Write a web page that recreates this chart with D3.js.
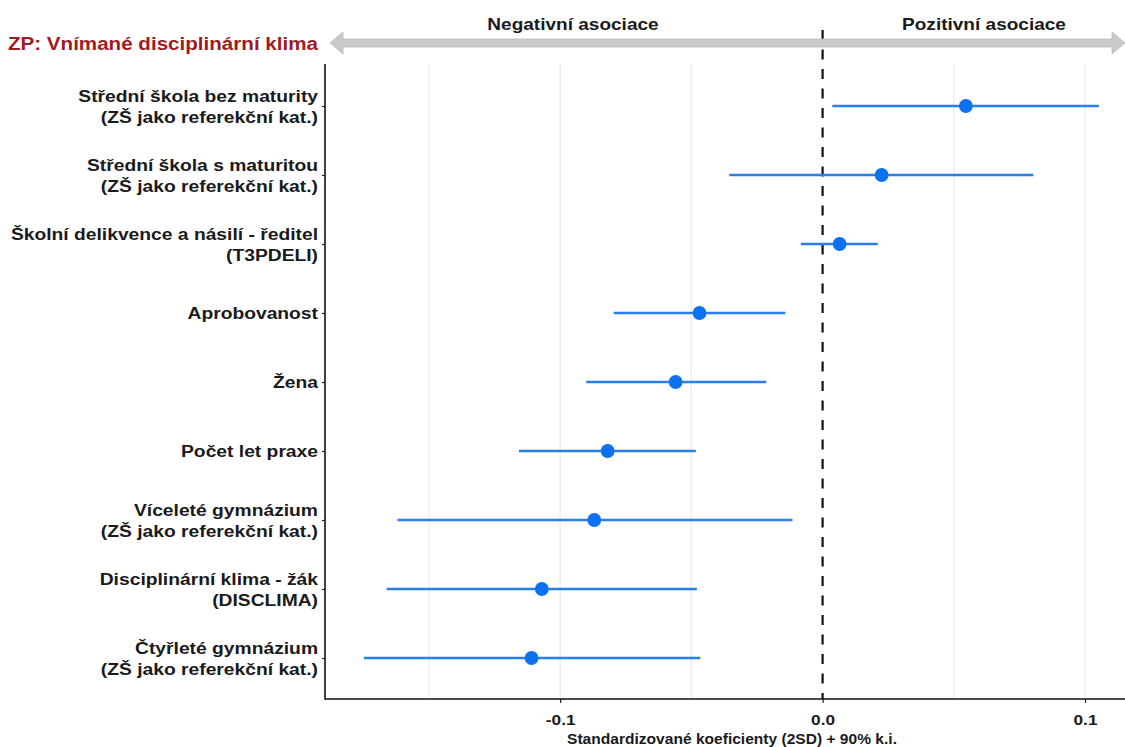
<!DOCTYPE html>
<html>
<head>
<meta charset="utf-8">
<script src="https://cdn.jsdelivr.net/npm/d3@7"></script>
<style>
  html, body { margin: 0; padding: 0; background: #ffffff; }
  svg { display: block; font-family: "Liberation Sans", Arial, sans-serif; font-weight: bold; }
</style>
</head>
<body>
<svg id="chart" width="1125" height="747"></svg>
<script>
const categories = [
  "Střední škola bez maturity\n(ZŠ jako referekční kat.)",
  "Střední škola s maturitou\n(ZŠ jako referekční kat.)",
  "Školní delikvence a násilí - ředitel\n(T3PDELI)",
  "Aprobovanost",
  "Žena",
  "Počet let praxe",
  "Víceleté gymnázium\n(ZŠ jako referekční kat.)",
  "Disciplinární klima - žák\n(DISCLIMA)",
  "Čtyřleté gymnázium\n(ZŠ jako referekční kat.)"
];
const estimates = [0.0546, 0.0225, 0.0065, -0.0469, -0.0560, -0.0819, -0.0870, -0.1070, -0.1109];
const lowerCI   = [0.0037, -0.0356, -0.0083, -0.0796, -0.0901, -0.1157, -0.1620, -0.1661, -0.1748];
const upperCI   = [0.1053, 0.0803, 0.0210, -0.0142, -0.0215, -0.0483, -0.0115, -0.0479, -0.0466];
const xTicks = [-0.1, 0.0, 0.1];
const xTickLabels = ["-0.1", "0.0", "0.1"];
const gridValues = [-0.15, -0.1, -0.05, 0.05, 0.1];
const titleText = "ZP: Vnímané disciplinární klima";
const negLabel = "Negativní asociace";
const posLabel = "Pozitivní asociace";
const xAxisTitle = "Standardizované koeficienty (2SD) + 90% k.i.";

const SX = 1.12; // horizontal stretch of text seen in reference
const svg = d3.select("#chart");
const panel = { left: 325, top: 64, bottom: 699 };

const x = d3.scaleLinear().domain([-0.19, 0.12]).range([324, 1137.5]);
const y = d3.scalePoint().domain(categories).range([106, 658]);

const rows = categories.map((c, i) => ({ cat: c, est: estimates[i], lo: lowerCI[i], hi: upperCI[i] }));

function addText(px, py, str, size, anchor, fill) {
  return svg.append("g").attr("transform", `translate(${px},${py}) scale(${SX},1)`)
    .append("text").attr("text-anchor", anchor).attr("font-size", size)
    .attr("fill", fill).text(str);
}

// gridlines
svg.append("g").selectAll("line").data(gridValues).join("line")
  .attr("x1", d => x(d)).attr("x2", d => x(d))
  .attr("y1", panel.top).attr("y2", panel.bottom)
  .attr("stroke", "#ebebeb").attr("stroke-width", 1.3);

// zero dashed line (extends up through arrow)
svg.append("line")
  .attr("x1", x(0)).attr("x2", x(0))
  .attr("y1", 30).attr("y2", panel.bottom)
  .attr("stroke", "#111").attr("stroke-width", 2.2)
  .attr("stroke-dasharray", "10,9.5");

// double arrow
const ay = 43, half = 4, headH = 11, headL = 13;
const xl = x(-0.19) + 6, xr = 1125;
const arrowPath = `M${xl},${ay} L${xl + headL},${ay - headH} L${xl + headL},${ay - half} L${xr - headL},${ay - half} L${xr - headL},${ay - headH} L${xr},${ay} L${xr - headL},${ay + headH} L${xr - headL},${ay + half} L${xl + headL},${ay + half} L${xl + headL},${ay + headH} Z`;
svg.append("path").attr("d", arrowPath)
  .attr("fill", "#c9c9c9").attr("stroke", "#bdbdbd").attr("stroke-width", 0.8);

// header labels
addText(573, 30, negLabel, 17, "middle", "#1a1a1a");
addText(984, 30, posLabel, 17, "middle", "#1a1a1a");

// title
addText(318, 50, titleText, 18.4, "end", "#9e1b1f");

// CI lines
svg.append("g").selectAll("line").data(rows).join("line")
  .attr("x1", d => x(d.lo)).attr("x2", d => x(d.hi))
  .attr("y1", d => y(d.cat)).attr("y2", d => y(d.cat))
  .attr("stroke", "#2a7ee6").attr("stroke-width", 2.4);

// points
svg.append("g").selectAll("circle").data(rows).join("circle")
  .attr("cx", d => x(d.est)).attr("cy", d => y(d.cat)).attr("r", 6.9)
  .attr("fill", "#0b72ef");

// x axis
const xAxis = d3.axisBottom(x).tickValues(xTicks).tickFormat((d, i) => xTickLabels[i]).tickSize(4).tickSizeOuter(0);
const gx = svg.append("g").attr("transform", `translate(0,${panel.bottom})`).call(xAxis);
gx.select(".domain").remove();
gx.selectAll(".tick line").attr("stroke", "#222").attr("stroke-width", 1.2);
gx.selectAll(".tick text").attr("font-size", 15.4).attr("font-family", "Liberation Sans, Arial, sans-serif")
  .attr("font-weight", "bold").attr("fill", "#1a1a1a")
  .attr("y", 26).attr("dy", null).attr("transform", `scale(${SX},1)`);
svg.append("line").attr("x1", panel.left).attr("x2", 1125).attr("y1", panel.bottom).attr("y2", panel.bottom)
  .attr("stroke", "#111").attr("stroke-width", 1.6);

// y axis
const yAxis = d3.axisLeft(y).tickSize(3).tickFormat("");
const gy = svg.append("g").attr("transform", `translate(${panel.left},0)`).call(yAxis);
gy.select(".domain").remove();
gy.selectAll(".tick line").attr("stroke", "#222").attr("stroke-width", 1.2);
svg.append("line").attr("x1", panel.left).attr("x2", panel.left).attr("y1", panel.top).attr("y2", panel.bottom + 0.8)
  .attr("stroke", "#111").attr("stroke-width", 1.6);

// y labels (multi-line)
const lab = svg.append("g").selectAll("g").data(categories).join("g")
  .attr("transform", d => `translate(318,${y(d)}) scale(${SX},1)`)
  .append("text").attr("text-anchor", "end").attr("font-size", 17.2).attr("fill", "#1a1a1a");
lab.each(function(d) {
  const lines = d.split("\n");
  const t = d3.select(this);
  const lh = 21;
  const start = -(lines.length - 1) * lh / 2;
  lines.forEach((ln, i) => {
    t.append("tspan").attr("x", 0).attr("y", start + i * lh).attr("dy", "0.35em").text(ln);
  });
});

// x axis title
addText(732, 744, xAxisTitle, 13.9, "middle", "#1a1a1a");
</script>
</body>
</html>
